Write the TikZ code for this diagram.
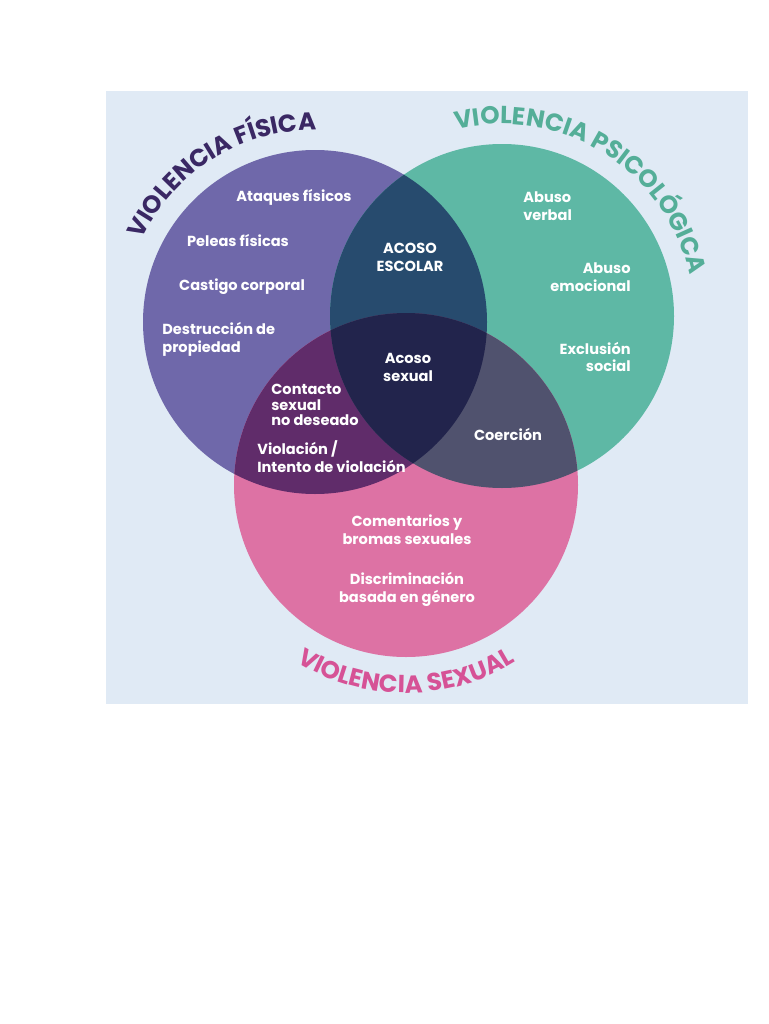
\documentclass[tikz,border=0pt]{standalone}
\usepackage{fontspec}
\setmainfont{Poppins}
\usetikzlibrary{decorations.text}
\definecolor{bgblue}{RGB}{224, 234, 245}
\definecolor{fisviolet}{RGB}{111, 104, 170}
\definecolor{psigreen}{RGB}{94, 184, 165}
\definecolor{sexpink}{RGB}{221, 114, 164}
\definecolor{fispsi}{RGB}{39, 75, 110}
\definecolor{fissex}{RGB}{96, 44, 106}
\definecolor{psisex}{RGB}{80, 82, 110}
\definecolor{allthree}{RGB}{34, 36, 76}
\definecolor{fistitle}{RGB}{58, 40, 100}
\definecolor{psititle}{RGB}{84, 174, 152}
\definecolor{sextitle}{RGB}{214, 82, 150}

\begin{document}
\begin{tikzpicture}[x=0.02cm, y=-0.02cm,
  lbl/.style={text=white, font=\bfseries\fontsize{8.3}{10.2}\selectfont, inner sep=0pt},
  ringtitle/.style 2 args={decorate, decoration={text along path, text align=center,
              text={|\bfseries\fontsize{14}{14}\selectfont\color{#1}|#2}}},
]
\useasboundingbox (0, 0) rectangle (768, 1024);
\fill[white] (0, 0) rectangle (768, 1024);
\fill[bgblue] (106, 91) rectangle (748, 704);

% Circles
\coordinate (fis) at (315, 322);
\coordinate (psi) at (502, 316);
\coordinate (sex) at (406, 485);
\fill[fisviolet] (fis) circle[radius=172];
\fill[psigreen] (psi) circle[radius=172];
\fill[sexpink] (sex) circle[radius=172];

% Overlaps
\begin{scope}
  \clip (fis) circle[radius=172];
  \fill[fispsi] (psi) circle[radius=172];
  \fill[fissex] (sex) circle[radius=172];
\end{scope}
\begin{scope}
  \clip (psi) circle[radius=172];
  \fill[psisex] (sex) circle[radius=172];
  \clip (fis) circle[radius=172];
  \fill[allthree] (sex) circle[radius=172];
\end{scope}

% Titles
\path[ringtitle={fistitle}{VIOLENCIA FÍSICA}]
  (fis) ++(-156:192) arc[start angle=-156, end angle=-88, radius=192];
\path[ringtitle={psititle}{VIOLENCIA PSICOLÓGICA}]
  (psi) ++(-104:192) arc[start angle=-104, end angle=-12, radius=192];
\path[ringtitle={sextitle}{VIOLENCIA SEXUAL}]
  (sex) ++(124:208) arc[start angle=124, end angle=56, radius=208];

% Fisica
\node[lbl] (ataques) at (294, 197) {Ataques físicos};
\node[lbl] (peleas) at (238, 241) {Peleas físicas};
\node[lbl] (castigo) at (242, 287) {Castigo corporal};
\node[lbl, anchor=west, align=left] (destruccion) at (162, 339) {Destrucción de\\propiedad};

% Psicologica
\node[lbl, anchor=west, align=left] (verbal) at (523, 206) {Abuso\\verbal};
\node[lbl, anchor=east, align=right] (emocional) at (631, 277) {Abuso\\emocional};
\node[lbl, anchor=east, align=right] (exclusion) at (631, 357) {Exclusión\\social};

% Overlaps
\node[lbl, align=center] (escolar) at (410, 257) {ACOSO\\ESCOLAR};
\node[lbl, align=center] (acoso) at (408, 367) {Acoso\\sexual};
\node[lbl, anchor=west, align=left, font=\bfseries\fontsize{8.3}{8.8}\selectfont]
  (contacto) at (271, 405) {Contacto\\sexual\\no deseado};
\node[lbl, anchor=west, align=left] (violacion) at (257, 457) {Violación /\\Intento de violación};
\node[lbl] (coercion) at (508, 434) {Coerción};

% Sexual
\node[lbl, align=center] (comentarios) at (407, 530) {Comentarios y\\bromas sexuales};
\node[lbl, align=center] (discriminacion) at (407, 589) {Discriminación\\basada en género};
\end{tikzpicture}
\end{document}
